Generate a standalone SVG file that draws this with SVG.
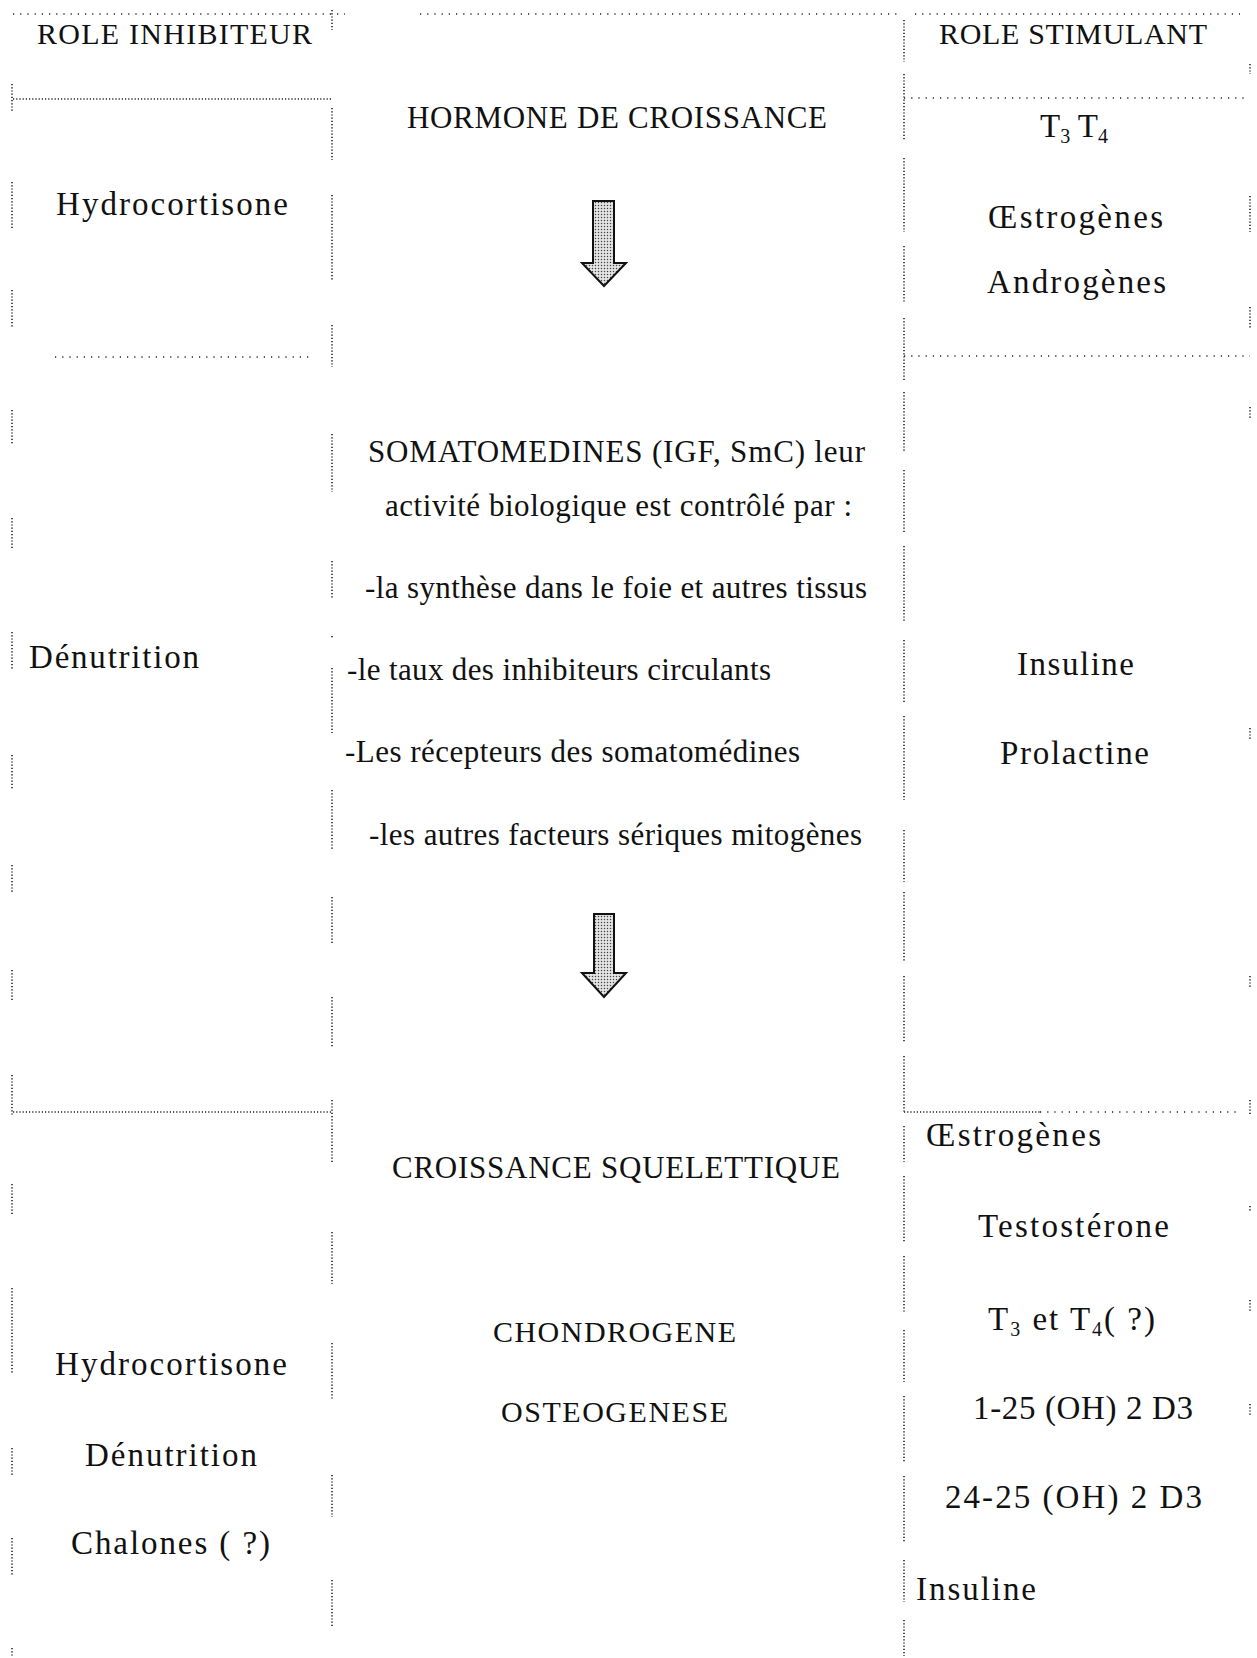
<svg xmlns="http://www.w3.org/2000/svg" width="1257" height="1658" viewBox="0 0 1257 1658">
<style>
.bg{fill:#fff}
.dl{stroke:#222;stroke-width:1.6;stroke-dasharray:1.2 2;fill:none}
.ds{stroke:#222;stroke-width:1.6;stroke-dasharray:1.2 6;fill:none}
.t{font-family:"Liberation Serif","Times New Roman",serif;font-size:33px;fill:#111}
.h{font-size:30px}
.m{font-size:31px}
.arrow{fill:url(#stip);stroke:#111;stroke-width:2;stroke-linejoin:miter}
</style>
<defs>
<pattern id="stip" width="3" height="3" patternUnits="userSpaceOnUse">
<rect width="3" height="3" fill="#e4e4e4"/>
<circle cx="1.5" cy="1.5" r="0.75" fill="#444"/>
</pattern>
</defs>
<rect class="bg" x="0" y="0" width="1257" height="1658"/>

<g id="grid">
<path class="ds" d="M13 14H345 M420 14H900 M915 14H1240"/>
<path class="dl" d="M13 99H332"/>
<path class="ds" d="M904 98H1248"/>
<path class="ds" d="M55 357H312"/>
<path class="ds" d="M904 356H1250"/>
<path class="dl" d="M13 1112H332"/>
<path class="dl" d="M904 1112H1040"/>
<path class="ds" d="M1040 1112H1240"/>
<path class="dl" d="M12 84V112 M12 182V230 M12 290V328 M12 410V445 M12 518V550 M12 632V670 M12 755V790 M12 865V892 M12 970V1000 M12 1075V1116 M12 1184V1216 M12 1288V1374 M12 1448V1475 M12 1538V1575 M12 1648V1656"/>
<path class="dl" d="M332 10V30 M332 108V160 M332 195V280 M332 325V367 M332 434V492 M332 561V599 M332 636V639 M332 668V733 M332 790V850 M332 897V943 M332 997V1047 M332 1100V1163 M332 1232V1284 M332 1343V1400 M332 1475V1517 M332 1580V1628"/>
<path class="dl" d="M904 20V62 M904 74V140 M904 158V232 M904 246V302 M904 318V380 M904 392V452 M904 470V532 M904 546V622 M904 640V702 M904 716V800 M904 830V882 M904 892V962 M904 976V1042 M904 1056V1112 M904 1126V1162 M904 1176V1242 M904 1256V1312 M904 1330V1382 M904 1396V1462 M904 1476V1542 M904 1560V1602 M904 1620V1656"/>
<path class="dl" d="M1250 64V74 M1250 196V232 M1250 307V328 M1250 407V418 M1250 728V740 M1250 976V988 M1250 1100V1116 M1250 1206V1212 M1250 1300V1312 M1250 1404V1416"/>
</g>

<g id="connectors">
<path class="arrow" d="M593 201H614V263H626L604 286L582 263H593Z"/>
<path class="arrow" d="M594 914H614V973H626L604 997L582 973H594Z"/>
</g>

<g id="header-inhibiteur"><text class="t h" x="37" y="44" textLength="275" lengthAdjust="spacing">ROLE INHIBITEUR</text></g>
<g id="header-stimulant"><text class="t h" x="939" y="44" textLength="268" lengthAdjust="spacing">ROLE STIMULANT</text></g>

<g id="node-hormone"><text class="t m" x="407" y="128" textLength="420" lengthAdjust="spacing">HORMONE DE CROISSANCE</text></g>

<g id="node-inhib-1"><text class="t" x="56" y="215" textLength="232" lengthAdjust="spacing">Hydrocortisone</text></g>

<g id="node-stim-1">
<text class="t" x="1040" y="137">T<tspan font-size="20" dy="6">3</tspan><tspan dy="-6"> T</tspan><tspan font-size="20" dy="6">4</tspan></text>
<text class="t" x="988" y="228" textLength="175" lengthAdjust="spacing">Œstrogènes</text>
<text class="t" x="987" y="293" textLength="179" lengthAdjust="spacing">Androgènes</text>
</g>

<g id="node-somatomedines">
<text class="t m" x="368" y="462" textLength="497" lengthAdjust="spacing">SOMATOMEDINES (IGF, SmC) leur</text>
<text class="t m" x="385" y="516" textLength="467" lengthAdjust="spacing">activité biologique est contrôlé par :</text>
<text class="t m" x="365" y="598" textLength="502" lengthAdjust="spacing">-la synthèse dans le foie et autres tissus</text>
<text class="t m" x="347" y="680" textLength="424" lengthAdjust="spacing">-le taux des inhibiteurs circulants</text>
<text class="t m" x="345" y="762" textLength="455" lengthAdjust="spacing">-Les récepteurs des somatomédines</text>
<text class="t m" x="369" y="845" textLength="493" lengthAdjust="spacing">-les autres facteurs sériques mitogènes</text>
</g>

<g id="node-inhib-2"><text class="t" x="29" y="668" textLength="170" lengthAdjust="spacing">Dénutrition</text></g>

<g id="node-stim-2">
<text class="t" x="1017" y="675" textLength="117" lengthAdjust="spacing">Insuline</text>
<text class="t" x="1000" y="764" textLength="149" lengthAdjust="spacing">Prolactine</text>
</g>

<g id="node-croissance">
<text class="t m" x="392" y="1178" textLength="448" lengthAdjust="spacing">CROISSANCE SQUELETTIQUE</text>
<text class="t" style="font-size:30px" x="493" y="1342" textLength="243" lengthAdjust="spacing">CHONDROGENE</text>
<text class="t" style="font-size:30px" x="501" y="1422" textLength="227" lengthAdjust="spacing">OSTEOGENESE</text>
</g>

<g id="node-inhib-3">
<text class="t" x="55" y="1375" textLength="232" lengthAdjust="spacing">Hydrocortisone</text>
<text class="t" x="85" y="1466" textLength="172" lengthAdjust="spacing">Dénutrition</text>
<text class="t" x="71" y="1554" textLength="199" lengthAdjust="spacing">Chalones ( ?)</text>
</g>

<g id="node-stim-3">
<text class="t" x="926" y="1146" textLength="175" lengthAdjust="spacing">Œstrogènes</text>
<text class="t" x="978" y="1237" textLength="191" lengthAdjust="spacing">Testostérone</text>
<text class="t" x="988" y="1330" letter-spacing="2">T<tspan font-size="20" dy="6">3</tspan><tspan dy="-6"> et T</tspan><tspan font-size="20" dy="6">4</tspan><tspan dy="-6">( ?)</tspan></text>
<text class="t" x="973" y="1419" textLength="220" lengthAdjust="spacing">1-25 (OH) 2 D3</text>
<text class="t" x="945" y="1508" textLength="257" lengthAdjust="spacing">24-25 (OH) 2 D3</text>
<text class="t" x="916" y="1600" textLength="120" lengthAdjust="spacing">Insuline</text>
</g>
</svg>
